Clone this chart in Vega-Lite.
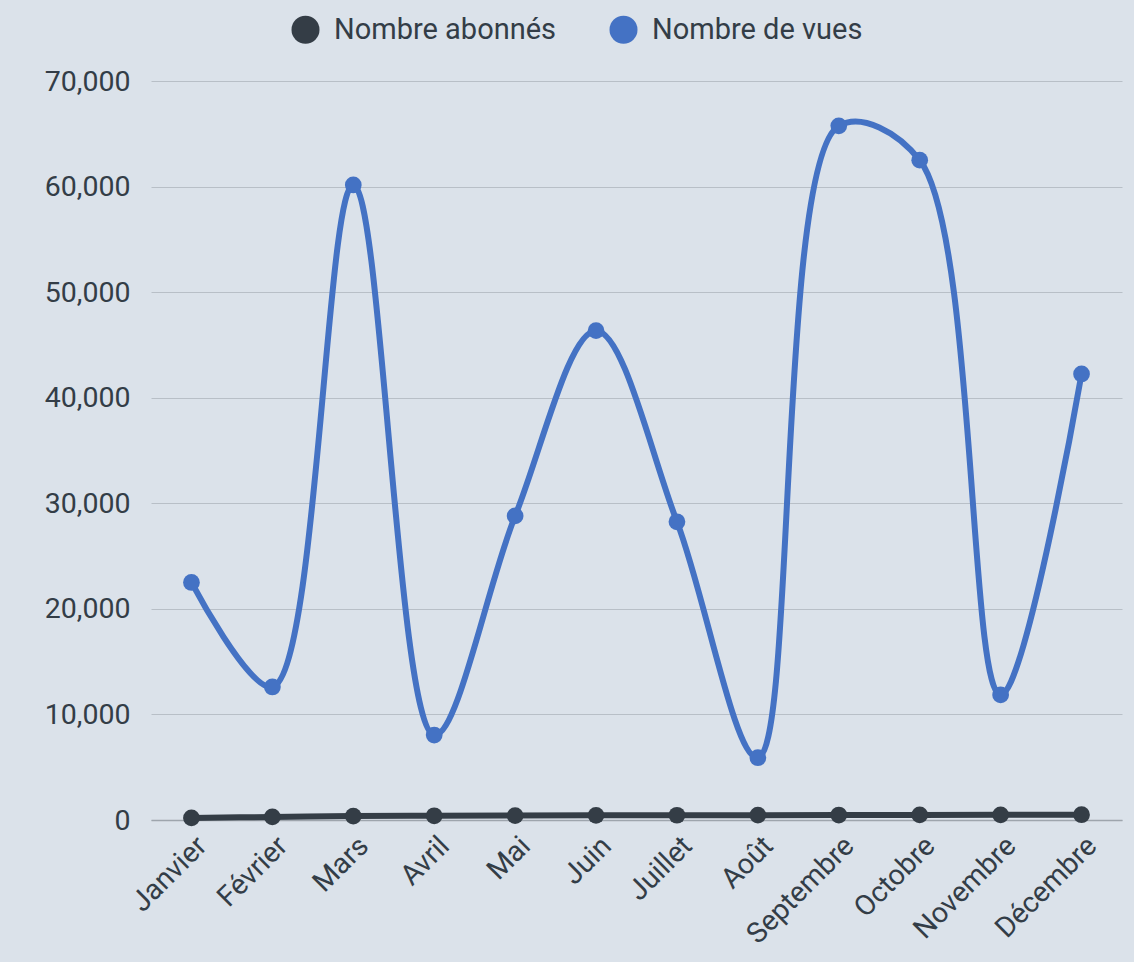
{
  "$schema": "https://vega.github.io/schema/vega-lite/v6.json",
  "width": 971,
  "height": 739,
  "autosize": {"type": "none"},
  "padding": {"left": 151, "top": 81, "right": 12, "bottom": 142},
  "background": "#dbe2ea",
  "config": {
    "view": {"stroke": null},
    "font": "Roboto",
    "axis": {"labelFont": "Roboto", "labelColor": "#333d47", "labelFontSize": 28.5}
  },
  "data": {
    "values": [
      {"mois": "Janvier", "serie": "Nombre abonnés", "valeur": 200},
      {"mois": "Février", "serie": "Nombre abonnés", "valeur": 290},
      {"mois": "Mars", "serie": "Nombre abonnés", "valeur": 370},
      {"mois": "Avril", "serie": "Nombre abonnés", "valeur": 400},
      {"mois": "Mai", "serie": "Nombre abonnés", "valeur": 420},
      {"mois": "Juin", "serie": "Nombre abonnés", "valeur": 440},
      {"mois": "Juillet", "serie": "Nombre abonnés", "valeur": 450},
      {"mois": "Août", "serie": "Nombre abonnés", "valeur": 460},
      {"mois": "Septembre", "serie": "Nombre abonnés", "valeur": 470},
      {"mois": "Octobre", "serie": "Nombre abonnés", "valeur": 480},
      {"mois": "Novembre", "serie": "Nombre abonnés", "valeur": 490},
      {"mois": "Décembre", "serie": "Nombre abonnés", "valeur": 500},
      {"mois": "Janvier", "serie": "Nombre de vues", "valeur": 22500},
      {"mois": "Février", "serie": "Nombre de vues", "valeur": 12600},
      {"mois": "Mars", "serie": "Nombre de vues", "valeur": 60150},
      {"mois": "Avril", "serie": "Nombre de vues", "valeur": 8050},
      {"mois": "Mai", "serie": "Nombre de vues", "valeur": 28800},
      {"mois": "Juin", "serie": "Nombre de vues", "valeur": 46350},
      {"mois": "Juillet", "serie": "Nombre de vues", "valeur": 28250},
      {"mois": "Août", "serie": "Nombre de vues", "valeur": 5900},
      {"mois": "Septembre", "serie": "Nombre de vues", "valeur": 65750},
      {"mois": "Octobre", "serie": "Nombre de vues", "valeur": 62500},
      {"mois": "Novembre", "serie": "Nombre de vues", "valeur": 11850},
      {"mois": "Décembre", "serie": "Nombre de vues", "valeur": 42250}
    ]
  },
  "encoding": {
    "x": {
      "field": "mois",
      "type": "ordinal",
      "sort": ["Janvier", "Février", "Mars", "Avril", "Mai", "Juin", "Juillet", "Août", "Septembre", "Octobre", "Novembre", "Décembre"],
      "title": null,
      "axis": {
        "labelAngle": -45,
        "labelPadding": 11,
        "ticks": false,
        "domain": true,
        "domainColor": "#9ea5ad",
        "domainWidth": 1.5,
        "grid": false
      }
    },
    "y": {
      "field": "valeur",
      "type": "quantitative",
      "scale": {"domain": [0, 70000], "nice": false},
      "title": null,
      "axis": {
        "values": [0, 10000, 20000, 30000, 40000, 50000, 60000, 70000],
        "format": ",d",
        "ticks": false,
        "domain": false,
        "grid": true,
        "gridColor": "#b8bfc7",
        "gridWidth": 1.2,
        "labelPadding": 21
      }
    },
    "color": {
      "field": "serie",
      "type": "nominal",
      "scale": {"domain": ["Nombre abonnés", "Nombre de vues"], "range": ["#343d46", "#4472c4"]},
      "legend": {
        "title": null,
        "orient": "none",
        "direction": "horizontal",
        "legendX": 140,
        "legendY": -66,
        "symbolType": "circle",
        "symbolSize": 784,
        "symbolStrokeWidth": 0,
        "labelFontSize": 29,
        "labelFont": "Roboto",
        "labelColor": "#333d47",
        "labelOffset": 14,
        "labelLimit": 400,
        "columnPadding": 52
      }
    }
  },
  "layer": [
    {
      "mark": {"type": "line", "interpolate": "catmull-rom", "strokeWidth": 6}
    },
    {
      "mark": {"type": "circle", "size": 280, "opacity": 1}
    }
  ]
}
